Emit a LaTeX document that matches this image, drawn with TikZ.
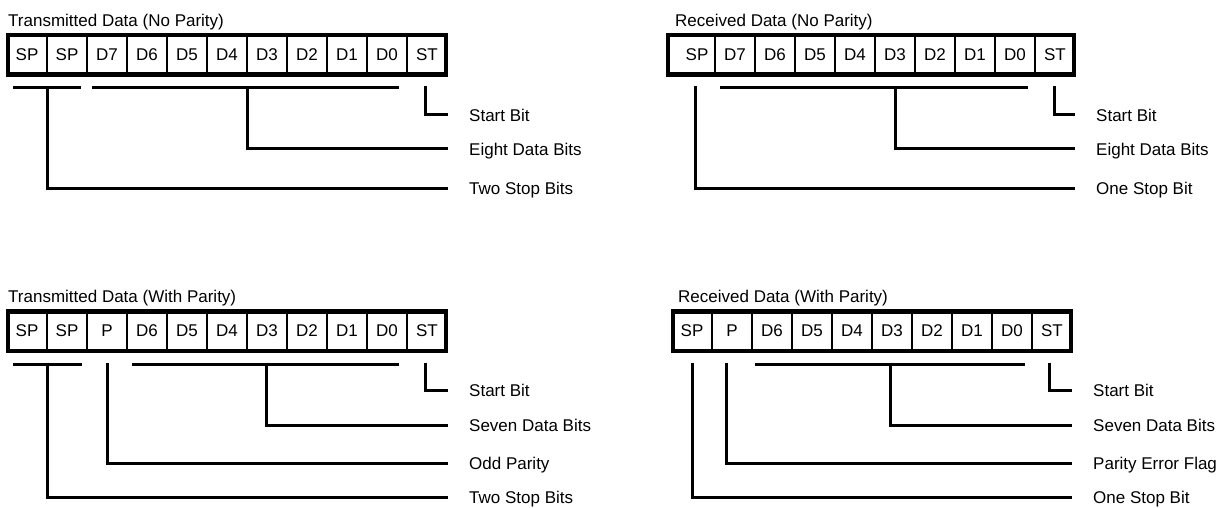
\documentclass[tikz,border=0pt]{standalone}
\usepackage{fontspec}
\setmainfont{Liberation Sans}
\begin{document}
\begin{tikzpicture}[x=1pt,y=-1pt,
  txt/.style={font=\fontsize{17}{20}\selectfont},
  cell/.style={txt, draw=black, line width=2.5pt, fill=white, minimum width=40pt,
    minimum height=41.5pt, inner sep=0pt, text height=12.2pt, text depth=2pt},
  frame/.style={draw=black, line width=4.5pt},
  conn/.style={draw=black, line width=3pt},
  lbl/.style={txt, anchor=west, inner xsep=21pt, inner ysep=0pt, text height=12.2pt, text depth=0pt},
  ttl/.style={txt, anchor=west, inner sep=0pt, text height=12.2pt, text depth=0pt}]
\fill[white] (0,0) rectangle (1229,508);
\useasboundingbox (0,0) rectangle (1229,508);

% ---------- Transmitted Data (No Parity) ----------
\node[ttl] (tlt) at (8,20) {Transmitted Data (No Parity)};
\foreach \t [count=\i] in {SP,SP,D7,D6,D5,D4,D3,D2,D1,D0,ST}
  \node[cell] (tl\i) at ({27+40*(\i-1)},55) {\t};
\draw[frame] (8,35.25) rectangle (446,74.75);
\node[lbl] (tll1) at (448,115) {Start Bit};
\node[lbl] (tll2) at (448,149) {Eight Data Bits};
\node[lbl] (tll3) at (448,188) {Two Stop Bits};
\coordinate (tla1) at (13,88);  \coordinate (tla2) at (81,88);
\coordinate (tlb1) at (92,88);  \coordinate (tlb2) at (399,88);
\coordinate (tlsv) at (425,86.5);
\coordinate (tldv) at (247,86.5);
\coordinate (tlpv) at (47,86.5);
\draw[conn] (tla1) -- (tla2);
\draw[conn] (tlb1) -- (tlb2);
\draw[conn] (tlsv) |- (tll1.west);
\draw[conn] (tldv) |- (tll2.west);
\draw[conn] (tlpv) |- (tll3.west);

% ---------- Received Data (No Parity) ----------
\node[ttl] (trt) at (675,20) {Received Data (No Parity)};
\node[cell, minimum width=48pt] (tr1) at (691,55) {\hspace*{12pt}SP};
\foreach \t [count=\i from 2] in {D7,D6,D5,D4,D3,D2,D1,D0,ST}
  \node[cell] (tr\i) at ({735+40*(\i-2)},55) {\t};
\draw[frame] (668,35.25) rectangle (1074,74.75);
\node[lbl] (trl1) at (1075,115) {Start Bit};
\node[lbl] (trl2) at (1075,149) {Eight Data Bits};
\node[lbl] (trl3) at (1075,188) {One Stop Bit};
\coordinate (trb1) at (720,88);  \coordinate (trb2) at (1028,88);
\coordinate (trsv) at (1054,86.5);
\coordinate (trdv) at (895,86.5);
\coordinate (trpv) at (695,86.5);
\draw[conn] (trb1) -- (trb2);
\draw[conn] (trsv) |- (trl1.west);
\draw[conn] (trdv) |- (trl2.west);
\draw[conn] (trpv) |- (trl3.west);

% ---------- Transmitted Data (With Parity) ----------
\node[ttl] (blt) at (8,296) {Transmitted Data (With Parity)};
\foreach \t [count=\i] in {SP,SP,P,D6,D5,D4,D3,D2,D1,D0,ST}
  \node[cell] (bl\i) at ({27+40*(\i-1)},331) {\t};
\draw[frame] (8,311.25) rectangle (446,350.75);
\node[lbl] (bll1) at (448,390) {Start Bit};
\node[lbl] (bll2) at (448,425) {Seven Data Bits};
\node[lbl] (bll3) at (448,463) {Odd Parity};
\node[lbl] (bll4) at (448,497) {Two Stop Bits};
\coordinate (bla1) at (13,364);  \coordinate (bla2) at (82,364);
\coordinate (blb1) at (132,364); \coordinate (blb2) at (399,364);
\coordinate (blsv) at (425,362.5);
\coordinate (bldv) at (266,362.5);
\coordinate (blpp) at (107,362.5);
\coordinate (blpv) at (47,362.5);
\draw[conn] (bla1) -- (bla2);
\draw[conn] (blb1) -- (blb2);
\draw[conn] (blsv) |- (bll1.west);
\draw[conn] (bldv) |- (bll2.west);
\draw[conn] (blpp) |- (bll3.west);
\draw[conn] (blpv) |- (bll4.west);

% ---------- Received Data (With Parity) ----------
\node[ttl] (brt) at (678,296) {Received Data (With Parity)};
\foreach \t [count=\i] in {SP,P,D6,D5,D4,D3,D2,D1,D0,ST}
  \node[cell] (br\i) at ({692+40*(\i-1)},331) {\t};
\draw[frame] (673,311.25) rectangle (1071,350.75);
\node[lbl] (brl1) at (1072,390) {Start Bit};
\node[lbl] (brl2) at (1072,425) {Seven Data Bits};
\node[lbl] (brl3) at (1072,463) {Parity Error Flag};
\node[lbl] (brl4) at (1072,497) {One Stop Bit};
\coordinate (brb1) at (755,364); \coordinate (brb2) at (1025,364);
\coordinate (brsv) at (1049,362.5);
\coordinate (brdv) at (890,362.5);
\coordinate (brpp) at (726,362.5);
\coordinate (brpv) at (692,362.5);
\draw[conn] (brb1) -- (brb2);
\draw[conn] (brsv) |- (brl1.west);
\draw[conn] (brdv) |- (brl2.west);
\draw[conn] (brpp) |- (brl3.west);
\draw[conn] (brpv) |- (brl4.west);
\end{tikzpicture}
\end{document}
